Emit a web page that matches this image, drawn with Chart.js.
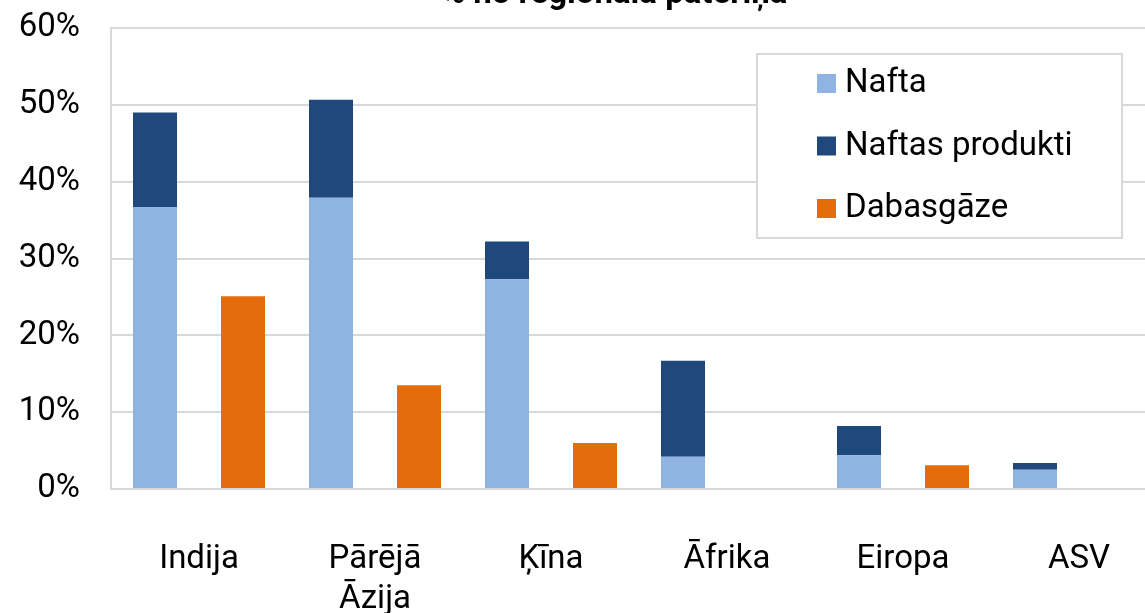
<!DOCTYPE html>
<html>
<head>
<meta charset="utf-8">
<script src="https://cdn.jsdelivr.net/npm/chart.js@4/dist/chart.umd.min.js"></script>
<style>
  html, body { margin: 0; padding: 0; background: #fff; overflow: hidden; }
  body { width: 1145px; height: 613px; position: relative; }
  #wrap { position: absolute; left: 0; top: -30px; width: 1180px; height: 643px; }
</style>
</head>
<body>
<div id="wrap"><canvas id="chart"></canvas></div>
<script>
var regioni = [['Indija'], ['Pārējā', 'Āzija'], ['Ķīna'], ['Āfrika'], ['Eiropa'], ['ASV']];
var nafta = [36.7, 37.9, 27.3, 4.2, 4.4, 2.5];
var naftasProdukti = [12.3, 12.75, 4.9, 12.5, 3.8, 0.9];
var dabasgaze = [25.1, 13.5, 6.0, null, 3.1, null];
var yTicks = [0, 10, 20, 30, 40, 50, 60];
var virsraksts = '% no reģionālā patēriņa';

var FONT = 'Roboto, "Noto Sans", sans-serif';

// virsraksts (augšā nogriezts)
var titlePlugin = {
  id: 'titlePlugin',
  afterDraw: function (chart) {
    var ctx = chart.ctx;
    ctx.save();
    ctx.font = 'bold 33px ' + FONT;
    ctx.fillStyle = '#000';
    ctx.textAlign = 'center';
    ctx.textBaseline = 'alphabetic';
    ctx.fillText(virsraksts, 614, 33);
    ctx.restore();
  }
};

// leģenda rāmī grafika iekšpusē
var legendBox = {
  id: 'legendBox',
  afterDraw: function (chart) {
    var ctx = chart.ctx;
    var x = 757, y = 84, w = 365, h = 184;
    ctx.save();
    ctx.fillStyle = '#fff';
    ctx.fillRect(x, y, w, h);
    ctx.strokeStyle = '#d9d9d9';
    ctx.lineWidth = 2;
    ctx.strokeRect(x, y, w, h);
    ctx.font = '33px ' + FONT;
    ctx.textBaseline = 'middle';
    chart.data.datasets.forEach(function (ds, i) {
      var cy = y + 29 + i * 62.5;
      ctx.fillStyle = ds.backgroundColor;
      ctx.fillRect(x + 60, cy - 9, 19, 19);
      ctx.fillStyle = '#000';
      ctx.fillText(ds.label, x + 88, cy + 1);
    });
    ctx.restore();
  }
};

new Chart(document.getElementById('chart'), {
  type: 'bar',
  data: {
    labels: regioni,
    datasets: [
      { label: 'Nafta', data: nafta, backgroundColor: '#8fb4e3', stack: 'nafta' },
      { label: 'Naftas produkti', data: naftasProdukti, backgroundColor: '#1f497d', stack: 'nafta' },
      { label: 'Dabasgāze', data: dabasgaze, backgroundColor: '#e46c0a', stack: 'gaze' }
    ]
  },
  options: {
    responsive: true,
    maintainAspectRatio: false,
    animation: false,
    datasets: { bar: { categoryPercentage: 1.0, barPercentage: 0.5 } },
    layout: { padding: { top: 58, right: 13, left: 0, bottom: 0 } },
    plugins: {
      legend: { display: false },
      title: { display: false },
      tooltip: { enabled: false }
    },
    scales: {
      x: {
        stacked: true,
        grid: { display: false },
        border: { display: true, color: '#d9d9d9', width: 2 },
        ticks: {
          color: '#000',
          font: { family: FONT, size: 33 },
          padding: 43,
          maxRotation: 0
        },
        afterFit: function (s) { s.height = 124; }
      },
      y: {
        stacked: true,
        min: 0,
        max: 60,
        afterBuildTicks: function (s) { s.ticks = yTicks.map(function (v) { return { value: v }; }); },
        grid: { color: '#d9d9d9', lineWidth: 2, drawTicks: false },
        border: { display: true, color: '#d9d9d9', width: 2 },
        ticks: {
          color: '#000',
          font: { family: FONT, size: 33 },
          padding: 31,
          callback: function (v) { return v + '%'; }
        },
        afterFit: function (s) { s.width = 111; }
      }
    }
  },
  plugins: [titlePlugin, legendBox]
});
</script>
</body>
</html>
